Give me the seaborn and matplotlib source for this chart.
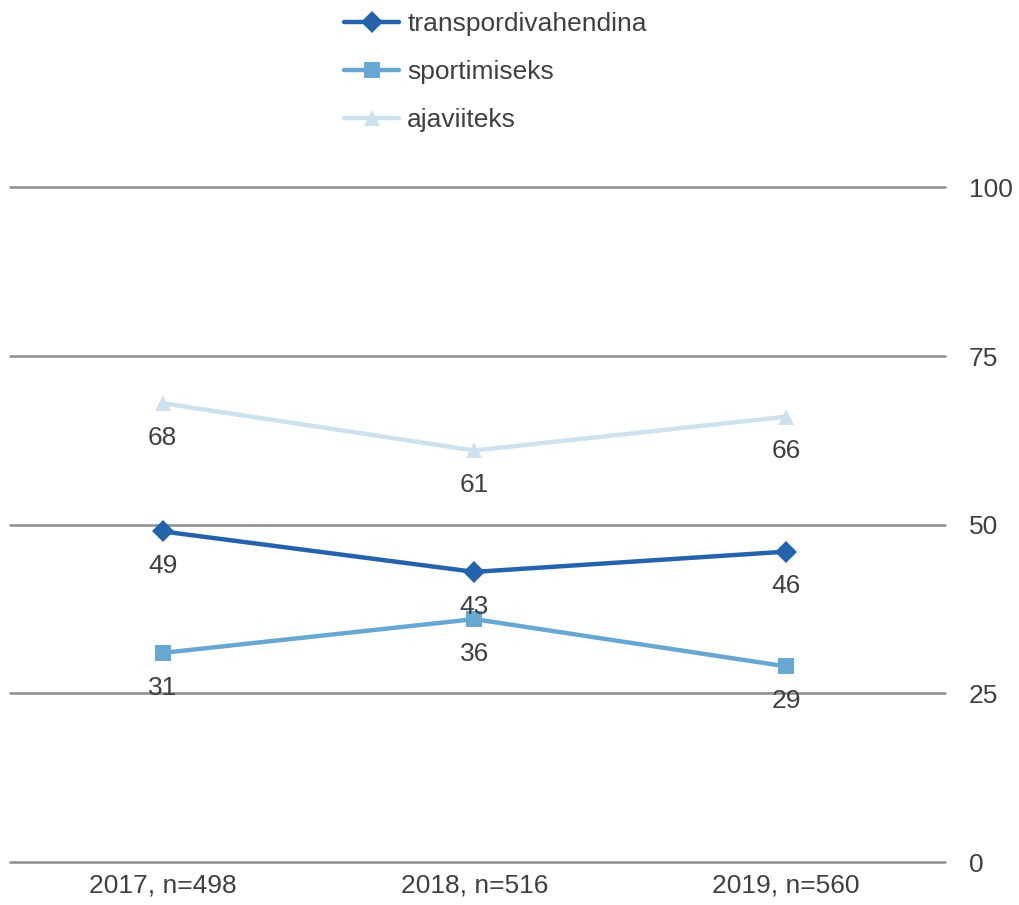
import pandas as pd
import matplotlib.pyplot as plt
import seaborn as sns

years = ['2017, n=498', '2018, n=516', '2019, n=560']
series = ['transpordivahendina', 'sportimiseks', 'ajaviiteks']
transport = [49, 43, 46]
sport = [31, 36, 29]
leisure = [68, 61, 66]
yticks = [0, 25, 50, 75, 100]

colors = {'transpordivahendina': '#2462ab', 'sportimiseks': '#67a8d2', 'ajaviiteks': '#cde1ee'}
markers = {'transpordivahendina': 'D', 'sportimiseks': 's', 'ajaviiteks': '^'}

rows = []
for name, vals in zip(series, [transport, sport, leisure]):
    for i, v in enumerate(vals):
        rows.append({'x': i, 'year': years[i], 'value': v, 'series': name})
df = pd.DataFrame(rows)

sns.set_style('white')
plt.rcParams['font.family'] = ['Liberation Sans Narrow', 'Liberation Sans', 'DejaVu Sans']
text_color = '#404040'

fig = plt.figure(figsize=(10.2, 9.05), dpi=100)
ax = fig.add_axes([0.0098, 0.0475, 0.9167, 0.7455])

for y in yticks:
    ax.axhline(y, color='#8c8c8c', lw=1.8, zorder=0, clip_on=False)

sns.lineplot(data=df, x='x', y='value', hue='series', style='series',
             palette=colors, markers=markers, dashes=False, lw=3.2,
             markersize=11, markeredgewidth=0, ax=ax, hue_order=series,
             style_order=series)

for _, r in df.iterrows():
    ax.annotate(str(r['value']), (r['x'], r['value']), xytext=(0, -25),
                textcoords='offset points', ha='center', va='center',
                fontsize=19, color=text_color)

ax.set_xlim(-0.49, 2.51)
ax.set_ylim(0, 100)
ax.set_xticks(range(len(years)))
ax.set_xticklabels(years, fontsize=19, color=text_color)
ax.set_yticks(yticks)
ax.yaxis.tick_right()
ax.set_yticklabels([str(t) for t in yticks], fontsize=19, color=text_color)
ax.tick_params(axis='y', length=0, pad=17)
ax.tick_params(axis='x', length=0, pad=8)
ax.set_xlabel('')
ax.set_ylabel('')
for s in ax.spines.values():
    s.set_visible(False)
ax.set_facecolor('none')

handles, labels = ax.get_legend_handles_labels()
ax.legend(handles, labels, loc='upper center', bbox_to_anchor=(0.519, 1.275),
          frameon=False, fontsize=19, labelcolor=text_color, handlelength=2.1,
          handletextpad=0.3, labelspacing=0.9, borderaxespad=0)

fig.savefig('out.png', dpi=100)
